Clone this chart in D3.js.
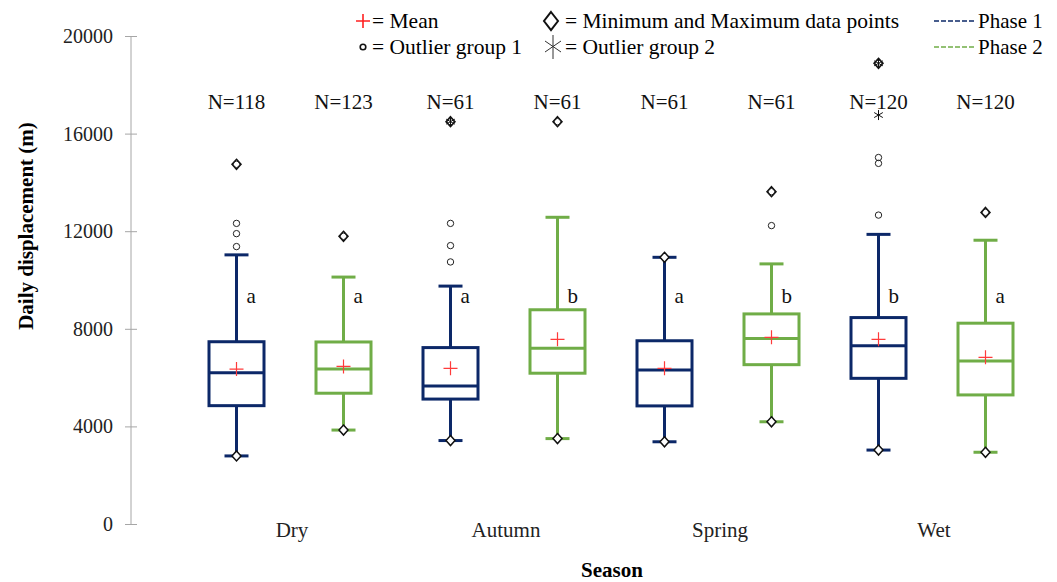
<!DOCTYPE html>
<html><head><meta charset="utf-8">
<script src="https://cdn.jsdelivr.net/npm/d3@7"></script>
<style>body{margin:0;background:#fff}svg{display:block}</style>
</head><body><svg id="c" width="1057" height="582" style="font-family:'Liberation Serif','Times New Roman','DejaVu Serif',serif"></svg>
<script>
const seasons = ["Dry","Autumn","Spring","Wet"];
const phases = ["Phase 1","Phase 2"];
// order: Dry P1, Dry P2, Autumn P1, Autumn P2, Spring P1, Spring P2, Wet P1, Wet P2
const whiskerLow  = [2790, 3850, 3420, 3500, 3370, 4190, 3030, 2940];
const q1          = [4850, 5360, 5120, 6180, 4840, 6530, 5970, 5290];
const median      = [6200, 6350, 5660, 7200, 6310, 7600, 7310, 6680];
const q3          = [7470, 7460, 7230, 8780, 7510, 8610, 8460, 8230];
const whiskerHigh = [11030, 10120, 9750, 12570, 10930, 10660, 11870, 11630];
const means       = [6350, 6460, 6380, 7570, 6380, 7650, 7570, 6830];
const minPoint    = [2790, 3850, 3420, 3500, 3370, 4190, 3030, 2940];
const maxPoint    = [14740, 11790, 16490, 16490, 10930, 13620, 18880, 12770];
const outliers1   = [[11370, 11900, 12320, 14740], [11790], [10740, 11410, 12320, 16490], [16490], [], [12230, 13620], [12660, 14780, 15020, 18880], [12770]];
const outliers2   = [[], [], [16490], [], [], [], [16760, 18880], []];
const letters     = ["a","a","a","b","a","b","b","a"];
const counts      = [118, 123, 61, 61, 61, 61, 120, 120];
const yTicks      = [0, 4000, 8000, 12000, 16000, 20000];
const colors = {"Phase 1": "#0c2868", "Phase 2": "#70ad47"};

const FONT = "'Liberation Serif','Times New Roman','DejaVu Serif',serif";
const svg = d3.select("#c");
const y = d3.scaleLinear().domain([0, 20000]).range([524, 36]);
const xs = d3.scaleBand().domain(seasons).range([183, 1039]);
const xp = d3.scalePoint().domain(phases).range([0, xs.bandwidth()]).padding(0.5);

function txt(g) { return g.append("text").style("font-family", FONT); }

const boxes = [];
seasons.forEach((s, si) => phases.forEach((p, pi) => {
  const i = si * 2 + pi;
  boxes.push({season: s, phase: p, i, cx: xs(s) + xp(p)});
}));

// y axis
const ax = svg.append("g").attr("transform", "translate(131,0)")
  .call(d3.axisLeft(y).tickValues(yTicks).tickSize(6).tickPadding(12).tickFormat(d3.format("d")));
ax.attr("font-family", null);
ax.select(".domain").attr("stroke", "#a6a6a6").attr("d", `M0,${y(0)}V${y(20000)}`);
ax.selectAll(".tick line").attr("stroke", "#a6a6a6").attr("x1", 6).attr("x2", -6);
ax.selectAll(".tick text").attr("font-size", 20).attr("fill", "#222").style("font-family", FONT);

txt(svg).attr("transform", "translate(33,226) rotate(-90)").attr("text-anchor", "middle")
  .attr("font-size", 21).attr("font-weight", "bold").text("Daily displacement (m)");
txt(svg).attr("x", 612).attr("y", 577).attr("text-anchor", "middle")
  .attr("font-size", 21).attr("font-weight", "bold").text("Season");

// season labels
svg.selectAll(".season").data(seasons).join("text").style("font-family", FONT)
  .attr("x", d => xs(d) + xs.bandwidth() / 2 + 2).attr("y", 537)
  .attr("text-anchor", "middle").attr("font-size", 21).attr("fill", "#222").text(d => d);

const bw = 55, cap = 24;
function diamond(g, cx, cy, w, h) {
  g.append("path").attr("d", `M${cx},${cy-h}L${cx+w},${cy}L${cx},${cy+h}L${cx-w},${cy}Z`)
    .attr("fill", "white").attr("stroke", "#111").attr("stroke-width", 1.5);
}
function asterisk(g, cx, cy, r) {
  const p = [];
  for (let k = 0; k < 3; k++) {
    const a = Math.PI / 2 + k * Math.PI / 3;
    p.push(`M${cx - r * Math.cos(a)},${cy - r * Math.sin(a)}L${cx + r * Math.cos(a)},${cy + r * Math.sin(a)}`);
  }
  g.append("path").attr("d", p.join("")).attr("stroke", "#111").attr("stroke-width", 1).attr("fill", "none");
}

boxes.forEach(b => {
  const g = svg.append("g");
  const c = colors[b.phase], i = b.i, cx = b.cx;
  g.append("line").attr("x1", cx).attr("x2", cx).attr("y1", y(q3[i])).attr("y2", y(whiskerHigh[i])).attr("stroke", c).attr("stroke-width", 3);
  g.append("line").attr("x1", cx).attr("x2", cx).attr("y1", y(q1[i])).attr("y2", y(whiskerLow[i])).attr("stroke", c).attr("stroke-width", 3);
  g.append("line").attr("x1", cx - cap/2).attr("x2", cx + cap/2).attr("y1", y(whiskerHigh[i])).attr("y2", y(whiskerHigh[i])).attr("stroke", c).attr("stroke-width", 3);
  g.append("line").attr("x1", cx - cap/2).attr("x2", cx + cap/2).attr("y1", y(whiskerLow[i])).attr("y2", y(whiskerLow[i])).attr("stroke", c).attr("stroke-width", 3);
  g.append("rect").attr("x", cx - bw/2).attr("width", bw).attr("y", y(q3[i])).attr("height", y(q1[i]) - y(q3[i]))
    .attr("fill", "white").attr("stroke", c).attr("stroke-width", 3);
  g.append("line").attr("x1", cx - bw/2).attr("x2", cx + bw/2).attr("y1", y(median[i])).attr("y2", y(median[i])).attr("stroke", c).attr("stroke-width", 3);
  const my = y(means[i]);
  g.append("path").attr("d", `M${cx-7},${my}H${cx+7}M${cx},${my-7}V${my+7}`).attr("stroke", "#ff3b3b").attr("stroke-width", 1.2).attr("fill", "none");
  diamond(g, cx, y(minPoint[i]), 4.5, 5);
  diamond(g, cx, y(maxPoint[i]), 4.5, 5);
  outliers1[i].forEach(v => g.append("circle").attr("cx", cx).attr("cy", y(v)).attr("r", 3.2)
    .attr("fill", "none").attr("stroke", "#222").attr("stroke-width", 1));
  outliers2[i].forEach(v => asterisk(g, cx, y(v), 5));
  txt(g).attr("x", cx + 10).attr("y", y(9350) + 7).attr("font-size", 21).attr("fill", "#111").text(letters[i]);
  txt(g).attr("x", cx).attr("y", 109).attr("text-anchor", "middle").attr("font-size", 21).attr("fill", "#111").text("N=" + counts[i]);
});

// legend
const lg = svg.append("g");
const r1 = 28, r2 = 54, lf = 21.5;
lg.append("path").attr("d", `M356,${r1-7}H370M363,${r1-14}V${r1}`).attr("stroke", "#ff2020").attr("stroke-width", 1.6);
txt(lg).attr("x", 372).attr("y", r1).attr("font-size", lf).text("= Mean");
lg.append("circle").attr("cx", 363).attr("cy", r2-7).attr("r", 2.8).attr("fill", "none").attr("stroke", "#111").attr("stroke-width", 1.6);
txt(lg).attr("x", 372).attr("y", r2).attr("font-size", lf).text("= Outlier group 1");
lg.append("path").attr("d", `M551,${r1-16}L558,${r1-7}L551,${r1+2}L544,${r1-7}Z`).attr("fill", "none").attr("stroke", "#111").attr("stroke-width", 2);
txt(lg).attr("x", 565).attr("y", r1).attr("font-size", lf).text("= Minimum and Maximum data points");
lg.append("path").attr("d", `M553,${r2-19}V${r2+5}M545,${r2-13}L561,${r2-2}M561,${r2-13}L545,${r2-2}`).attr("stroke", "#333").attr("stroke-width", 1);
txt(lg).attr("x", 565).attr("y", r2).attr("font-size", lf).text("= Outlier group 2");
phases.forEach((p, k) => {
  const yy = (k === 0 ? r1 : r2);
  lg.append("line").attr("x1", 934).attr("x2", 975).attr("y1", yy - 7).attr("y2", yy - 7)
    .attr("stroke", colors[p]).attr("stroke-width", 1.5).attr("stroke-dasharray", "5,2");
  txt(lg).attr("x", 978).attr("y", yy).attr("font-size", 21).text(p);
});
</script></body></html>
